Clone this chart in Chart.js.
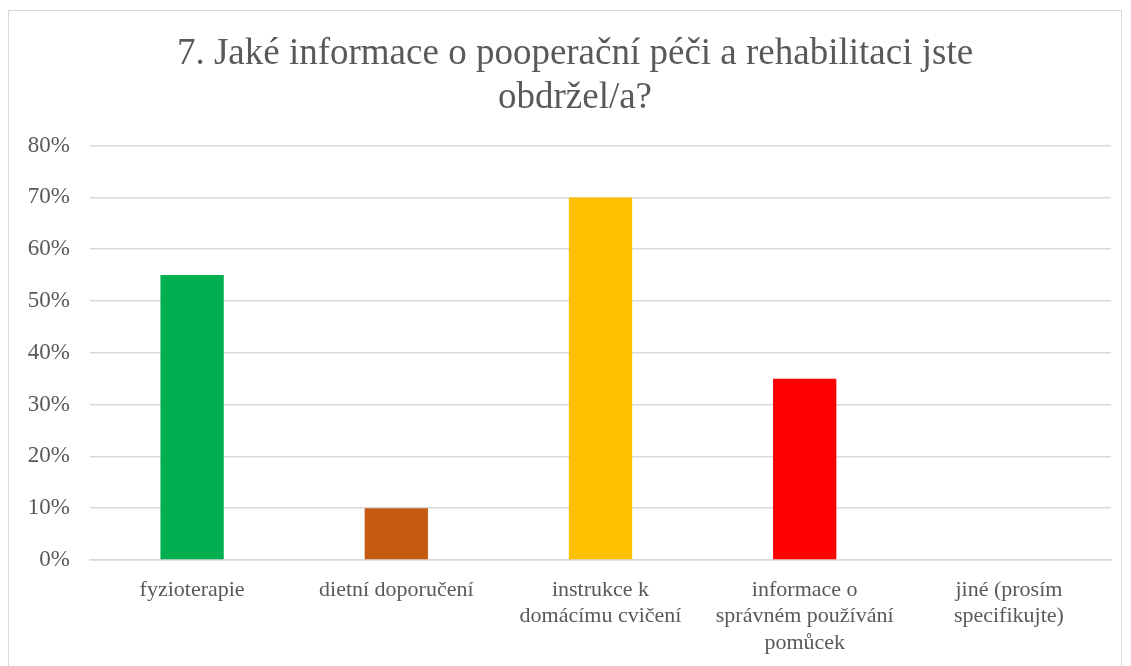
<!DOCTYPE html>
<html lang="cs">
<head>
<meta charset="utf-8">
<title>Pooperační péče</title>
<script src="https://cdn.jsdelivr.net/npm/chart.js@4/dist/chart.umd.min.js"></script>
<style>
  body { margin: 0; background: #fff; overflow: hidden; }
  #box {
    position: absolute; left: 8px; top: 10px;
    width: 1114px; height: 670px;
    border: 1px solid #d9d9d9; box-sizing: border-box;
  }
  #chart { display: block; }
</style>
</head>
<body>
<div id="box"><canvas id="chart" width="1112" height="668"></canvas></div>
<script>
// data
const titleLines = ["7. Jaké informace o pooperační péči a rehabilitaci jste", "obdržel/a?"];
const categories = [
  ["fyzioterapie"],
  ["dietní doporučení"],
  ["instrukce k", "domácímu cvičení"],
  ["informace o", "správném používání", "pomůcek"],
  ["jiné (prosím", "specifikujte)"]
];
const values = [55, 10, 70, 35, 0];
const barColors = ["#00B050", "#C55A11", "#FFC000", "#FF0000", "#4472C4"];

const textColor = "#595959";
const serif = "'Liberation Serif', 'Times New Roman', serif";

const ctx = document.getElementById("chart").getContext("2d");
const chart = new Chart(ctx, {
  type: "bar",
  data: {
    labels: categories,
    datasets: [{
      data: values,
      backgroundColor: barColors,
      barPercentage: 0.31,
      categoryPercentage: 1
    }]
  },
  options: {
    responsive: false,
    animation: false,
    layout: { padding: { left: 0, right: 10, top: 0, bottom: 0 } },
    plugins: {
      legend: { display: false },
      tooltip: { enabled: false },
      title: {
        display: true,
        text: titleLines,
        color: textColor,
        font: { family: serif, size: 37, weight: "normal", lineHeight: 1.17 },
        padding: { top: 22, bottom: 26 }
      }
    },
    scales: {
      y: {
        min: 0,
        max: 80,
        ticks: {
          stepSize: 10,
          color: textColor,
          font: { family: serif, size: 23 },
          padding: 20,
          callback: v => v + "%"
        },
        grid: { color: "#d9d9d9", lineWidth: 1.5, drawTicks: false },
        border: { display: false },
        afterFit: s => { s.width = 81; }
      },
      x: {
        ticks: {
          color: textColor,
          font: { family: serif, size: 22, lineHeight: 1.2 },
          padding: 9,
          maxRotation: 0,
          autoSkip: false
        },
        grid: { display: false },
        border: { color: "#d9d9d9", width: 1.5 },
        afterFit: s => { s.height = 119; }
      }
    }
  }
});

// nadpis je v originále trochu vpravo od středu
const origDraw = chart.titleBlock.draw;
chart.titleBlock.draw = function () {
  const c = this.ctx;
  c.save();
  c.translate(15, 0);
  origDraw.apply(this, arguments);
  c.restore();
};
chart.draw();
</script>
</body>
</html>
